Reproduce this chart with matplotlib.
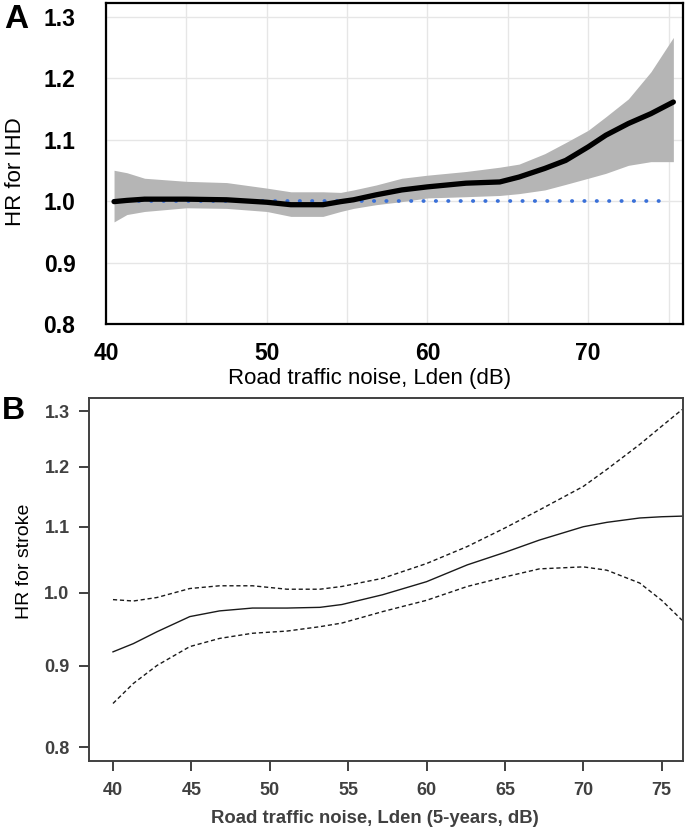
import numpy as np
import matplotlib
matplotlib.use('Agg')
import matplotlib.pyplot as plt
from matplotlib.ticker import FixedLocator, NullLocator

plt.rcParams['font.family'] = ['Liberation Sans', 'DejaVu Sans']

# Panel A: HR for IHD (spline with 95% CI band)
a_x = [40.5, 41.3, 42.4, 45.0, 47.5, 50.0, 51.5, 53.5, 54.6, 55.4, 56.8, 58.4, 60.0,
       62.4, 64.5, 65.7, 67.3, 68.6, 70.0, 71.1, 72.5, 73.9, 75.3]
a_hr = [0.999, 1.001, 1.003, 1.003, 1.002, 0.998, 0.994, 0.994, 0.999, 1.002, 1.010,
        1.018, 1.023, 1.029, 1.031, 1.039, 1.053, 1.066, 1.088, 1.107, 1.126, 1.142, 1.161]
a_up = [1.050, 1.046, 1.037, 1.032, 1.030, 1.021, 1.015, 1.015, 1.014, 1.018, 1.026,
        1.037, 1.042, 1.048, 1.055, 1.060, 1.077, 1.095, 1.115, 1.137, 1.166, 1.210, 1.266]
a_lo = [0.966, 0.978, 0.983, 0.989, 0.988, 0.983, 0.975, 0.975, 0.983, 0.988, 0.994,
        0.999, 1.005, 1.007, 1.009, 1.012, 1.018, 1.027, 1.037, 1.045, 1.058, 1.064, 1.064]
a_ref_x = [40.5, 74.7]
a_ref = [1.0, 1.0]

# Panel B: HR for stroke (spline with dashed 95% CI)
b_x = [40.0, 41.3, 42.8, 44.9, 46.8, 48.9, 51.1, 53.2, 54.6, 57.2, 60.0, 62.6, 65.0,
       67.2, 70.0, 71.5, 73.6, 75.0, 76.3]
b_hr = [0.918, 0.929, 0.945, 0.966, 0.974, 0.978, 0.978, 0.979, 0.983, 0.997, 1.016,
        1.041, 1.060, 1.079, 1.100, 1.107, 1.114, 1.116, 1.117]
b_up = [0.990, 0.988, 0.993, 1.006, 1.010, 1.010, 1.005, 1.005, 1.009, 1.021, 1.043,
        1.069, 1.098, 1.127, 1.166, 1.195, 1.239, 1.272, 1.303]
b_lo = [0.852, 0.877, 0.900, 0.925, 0.936, 0.943, 0.946, 0.952, 0.957, 0.973, 0.989,
        1.009, 1.023, 1.035, 1.038, 1.033, 1.014, 0.989, 0.961]

a_yticks = [0.8, 0.9, 1.0, 1.1, 1.2, 1.3]
a_xticks = [40, 50, 60, 70]
a_xminor = [45, 55, 65, 75]
b_yticks = [0.8, 0.9, 1.0, 1.1, 1.2, 1.3]
b_xticks = [40, 45, 50, 55, 60, 65, 70, 75]

W, H = 688, 830
fig = plt.figure(figsize=(W / 100, H / 100), dpi=100)

# ---- Panel A ----
ax1 = fig.add_axes([106/W, 1 - 324/H, 577/W, 321/H])
ax1.fill_between(a_x, a_lo, a_up, color='#b5b5b5', lw=0, zorder=2)
ax1.plot(a_ref_x, a_ref, color='#3a70d8', lw=2.7, dashes=(0.1, 3.2),
         dash_capstyle='round', zorder=3)
ax1.plot(a_x, a_hr, color='black', lw=3.8, solid_capstyle='round',
         solid_joinstyle='round', zorder=4)
ax1.set_xlim(40.0, 75.9)
ax1.set_ylim(0.8, 1.322)
ax1.xaxis.set_major_locator(FixedLocator(a_xticks))
ax1.xaxis.set_minor_locator(FixedLocator(a_xminor))
ax1.yaxis.set_major_locator(FixedLocator(a_yticks))
ax1.set_yticklabels([f'{v:.1f}' for v in a_yticks])
ax1.grid(which='both', color='#e6e6e6', lw=1.0, zorder=0)
ax1.set_axisbelow(True)
ax1.tick_params(which='both', length=0)
ax1.tick_params(axis='y', pad=22, labelsize=16.5)
ax1.tick_params(axis='x', pad=13, labelsize=16.5)
for lab in ax1.get_xticklabels() + ax1.get_yticklabels():
    lab.set_fontweight('bold')
for sp in ax1.spines.values():
    sp.set_color('black')
    sp.set_linewidth(1.6)
fig.text(370/W, 1 - 378/H, 'Road traffic noise, Lden (dB)', fontsize=16,
         ha='center', va='center')
fig.text(16/W, 1 - 172/H, 'HR for IHD', fontsize=16, rotation=90,
         ha='center', va='center')
fig.text(16/W, 1 - 20/H, 'A', fontsize=24, fontweight='bold', ha='center', va='center')

# ---- Panel B ----
ax2 = fig.add_axes([89/W, 1 - 761/H, 594/W, 363/H])
ax2.plot(b_x, b_hr, color='#1a1a1a', lw=1.0)
ax2.plot(b_x, b_up, color='#1a1a1a', lw=1.0, dashes=(3, 2))
ax2.plot(b_x, b_lo, color='#1a1a1a', lw=1.0, dashes=(3, 2))
ax2.set_yscale('log')
ax2.set_xlim(38.47, 76.36)
ax2.set_ylim(0.784, 1.325)
ax2.yaxis.set_major_locator(FixedLocator(b_yticks))
ax2.yaxis.set_minor_locator(NullLocator())
ax2.set_yticklabels([f'{v:.1f}' for v in b_yticks])
ax2.xaxis.set_major_locator(FixedLocator(b_xticks))
ax2.tick_params(which='both', direction='out', length=7, width=1.4, color='#404040',
                labelcolor='#404040', labelsize=13)
ax2.tick_params(axis='y', pad=7)
ax2.tick_params(axis='x', pad=8)
for lab in ax2.get_xticklabels() + ax2.get_yticklabels():
    lab.set_fontweight('bold')
for sp in ax2.spines.values():
    sp.set_color('#404040')
    sp.set_linewidth(1.4)
fig.text(375/W, 1 - 818/H, 'Road traffic noise, Lden (5-years, dB)', fontsize=13.3,
         fontweight='bold', color='#404040', ha='center', va='center')
fig.text(25/W, 1 - 561/H, 'HR for stroke', fontsize=14, rotation=90,
         ha='center', va='center')
fig.text(13/W, 1 - 411/H, 'B', fontsize=23, fontweight='bold', ha='center', va='center')

fig.savefig('out.png', dpi=100)
